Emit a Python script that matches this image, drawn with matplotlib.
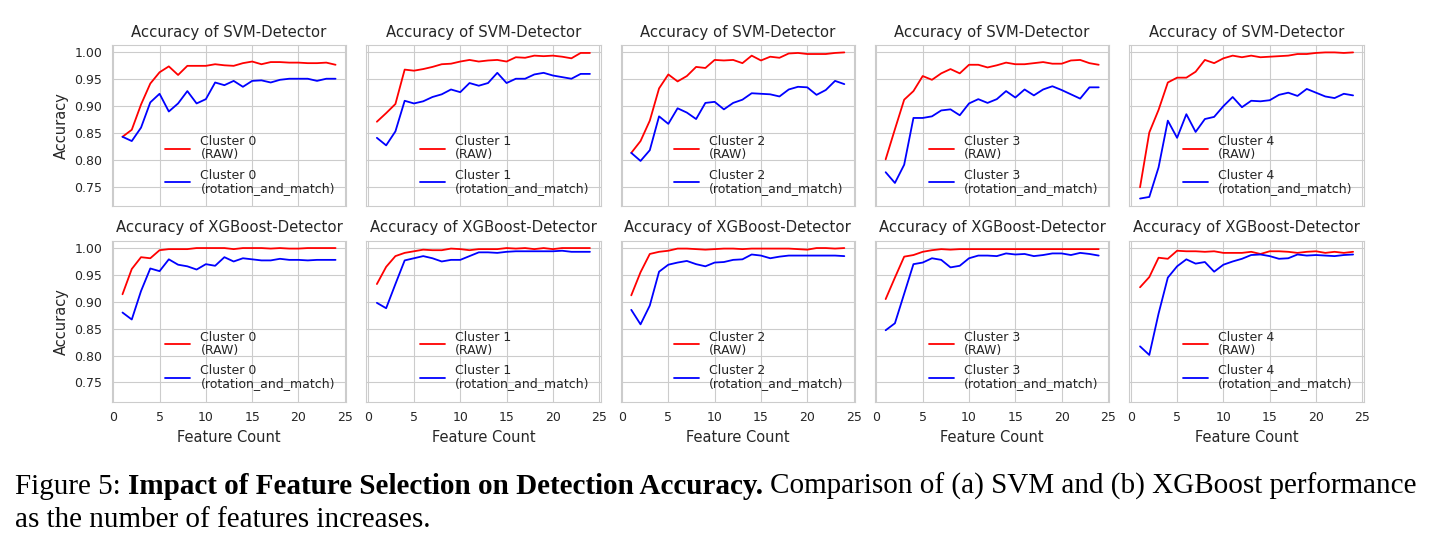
import matplotlib
matplotlib.use('Agg')
import matplotlib.pyplot as plt
import seaborn as sns

# feature counts 1..24
features = list(range(1, 25))

# SVM detector, RAW features
svm_raw_0 = [0.843, 0.856, 0.903, 0.942, 0.963, 0.974, 0.958, 0.975, 0.975, 0.975, 0.978, 0.976,
             0.975, 0.980, 0.983, 0.978, 0.982, 0.982, 0.981, 0.981, 0.980, 0.980, 0.981, 0.977]
svm_raw_1 = [0.871, 0.887, 0.904, 0.968, 0.966, 0.969, 0.973, 0.978, 0.979, 0.983, 0.986, 0.983,
             0.985, 0.986, 0.983, 0.991, 0.990, 0.994, 0.993, 0.994, 0.992, 0.989, 0.999, 0.999]
svm_raw_2 = [0.813, 0.835, 0.873, 0.933, 0.959, 0.946, 0.956, 0.973, 0.971, 0.986, 0.985, 0.986,
             0.980, 0.994, 0.985, 0.992, 0.990, 0.998, 0.999, 0.997, 0.997, 0.997, 0.999, 1.000]
svm_raw_3 = [0.801, 0.857, 0.912, 0.928, 0.956, 0.949, 0.961, 0.969, 0.961, 0.977, 0.977, 0.972,
             0.976, 0.981, 0.978, 0.978, 0.980, 0.982, 0.979, 0.979, 0.985, 0.986, 0.980, 0.977]
svm_raw_4 = [0.749, 0.851, 0.893, 0.944, 0.953, 0.953, 0.964, 0.986, 0.980, 0.989, 0.994, 0.991,
             0.994, 0.991, 0.992, 0.993, 0.994, 0.997, 0.997, 0.999, 1.000, 1.000, 0.999, 1.000]

# SVM detector, rotation_and_match features
svm_rot_0 = [0.843, 0.835, 0.860, 0.907, 0.923, 0.890, 0.905, 0.928, 0.905, 0.913, 0.944, 0.939,
             0.947, 0.936, 0.947, 0.948, 0.944, 0.949, 0.951, 0.951, 0.951, 0.947, 0.951, 0.951]
svm_rot_1 = [0.841, 0.827, 0.853, 0.910, 0.905, 0.909, 0.917, 0.922, 0.931, 0.926, 0.943, 0.938,
             0.943, 0.962, 0.943, 0.951, 0.951, 0.959, 0.962, 0.957, 0.954, 0.951, 0.960, 0.960]
svm_rot_2 = [0.813, 0.798, 0.818, 0.881, 0.867, 0.896, 0.888, 0.876, 0.906, 0.908, 0.894, 0.906,
             0.912, 0.924, 0.923, 0.922, 0.918, 0.931, 0.936, 0.935, 0.921, 0.930, 0.947, 0.941]
svm_rot_3 = [0.777, 0.757, 0.791, 0.878, 0.878, 0.881, 0.892, 0.894, 0.883, 0.905, 0.913, 0.906,
             0.913, 0.928, 0.916, 0.931, 0.920, 0.931, 0.937, 0.930, 0.922, 0.914, 0.935, 0.935]
svm_rot_4 = [0.728, 0.731, 0.786, 0.873, 0.841, 0.885, 0.852, 0.876, 0.880, 0.900, 0.917, 0.898,
             0.910, 0.909, 0.911, 0.921, 0.925, 0.919, 0.932, 0.925, 0.918, 0.915, 0.923, 0.920]

# XGBoost detector, RAW features
xgb_raw_0 = [0.914, 0.961, 0.983, 0.981, 0.996, 0.998, 0.998, 0.998, 1.000, 1.000, 1.000, 1.000,
             0.998, 1.000, 1.000, 1.000, 0.999, 1.000, 0.999, 0.999, 1.000, 1.000, 1.000, 1.000]
xgb_raw_1 = [0.933, 0.965, 0.985, 0.991, 0.994, 0.997, 0.996, 0.996, 0.999, 0.998, 0.996, 0.998,
             0.998, 0.998, 1.000, 0.999, 1.000, 0.998, 1.000, 0.998, 1.000, 1.000, 1.000, 1.000]
xgb_raw_2 = [0.912, 0.955, 0.989, 0.993, 0.995, 0.999, 0.999, 0.998, 0.997, 0.998, 0.999, 0.999,
             0.998, 0.999, 0.999, 0.999, 0.999, 0.999, 0.998, 0.997, 1.000, 1.000, 0.999, 1.000]
xgb_raw_3 = [0.905, 0.945, 0.984, 0.987, 0.993, 0.996, 0.998, 0.997, 0.998, 0.998, 0.998, 0.998,
             0.998, 0.998, 0.998, 0.998, 0.998, 0.998, 0.998, 0.998, 0.998, 0.998, 0.998, 0.998]
xgb_raw_4 = [0.927, 0.946, 0.982, 0.980, 0.995, 0.994, 0.994, 0.993, 0.994, 0.991, 0.991, 0.991,
             0.993, 0.989, 0.994, 0.994, 0.993, 0.991, 0.993, 0.994, 0.991, 0.993, 0.991, 0.993]

# XGBoost detector, rotation_and_match features
xgb_rot_0 = [0.880, 0.867, 0.920, 0.962, 0.957, 0.979, 0.969, 0.966, 0.960, 0.970, 0.967, 0.983,
             0.975, 0.981, 0.979, 0.977, 0.977, 0.980, 0.978, 0.978, 0.977, 0.978, 0.978, 0.978]
xgb_rot_1 = [0.898, 0.888, 0.933, 0.977, 0.981, 0.985, 0.981, 0.975, 0.978, 0.978, 0.985, 0.992,
             0.992, 0.991, 0.993, 0.994, 0.994, 0.994, 0.994, 0.994, 0.995, 0.993, 0.993, 0.993]
xgb_rot_2 = [0.885, 0.858, 0.893, 0.956, 0.969, 0.973, 0.976, 0.970, 0.966, 0.973, 0.974, 0.978,
             0.979, 0.988, 0.986, 0.981, 0.984, 0.986, 0.986, 0.986, 0.986, 0.986, 0.986, 0.985]
xgb_rot_3 = [0.847, 0.860, 0.915, 0.970, 0.973, 0.981, 0.978, 0.964, 0.967, 0.981, 0.986, 0.986,
             0.985, 0.990, 0.988, 0.989, 0.985, 0.987, 0.990, 0.990, 0.987, 0.991, 0.989, 0.986]
xgb_rot_4 = [0.817, 0.801, 0.878, 0.945, 0.966, 0.979, 0.971, 0.974, 0.956, 0.969, 0.975, 0.980,
             0.987, 0.988, 0.985, 0.980, 0.981, 0.988, 0.986, 0.987, 0.986, 0.985, 0.987, 0.988]

detectors = ['SVM', 'XGBoost']
raw_series = [[svm_raw_0, svm_raw_1, svm_raw_2, svm_raw_3, svm_raw_4],
              [xgb_raw_0, xgb_raw_1, xgb_raw_2, xgb_raw_3, xgb_raw_4]]
rot_series = [[svm_rot_0, svm_rot_1, svm_rot_2, svm_rot_3, svm_rot_4],
              [xgb_rot_0, xgb_rot_1, xgb_rot_2, xgb_rot_3, xgb_rot_4]]

sns.set_style('whitegrid')
plt.rcParams['font.family'] = ['DejaVu Sans']

fig, axes = plt.subplots(2, 5, figsize=(14.34, 5.5), dpi=100, sharex=True, sharey=True)
fig.subplots_adjust(left=0.078, right=0.951, top=0.918, bottom=0.27, wspace=0.0855, hspace=0.217)

for r, det in enumerate(detectors):
    for c in range(5):
        ax = axes[r, c]
        ax.plot(features, raw_series[r][c], color='red', lw=1.3, label=f'Cluster {c}\n(RAW)')
        ax.plot(features, rot_series[r][c], color='blue', lw=1.3,
                label=f'Cluster {c}\n(rotation_and_match)')
        ax.set_title(f'Accuracy of {det}-Detector', fontsize=10.7, color='.15')
        ax.tick_params(labelsize=9, colors='.15')
        leg = ax.legend(loc='lower right', fontsize=9, frameon=False, labelspacing=0.6)
        for t in leg.get_texts():
            t.set_linespacing(1.0)
        if c == 0:
            ax.set_ylabel('Accuracy', fontsize=10.5, color='.15')
        if r == 1:
            ax.set_xlabel('Feature Count', fontsize=10.5, color='.15')

ax.set_xticks([0, 5, 10, 15, 20, 25])

# caption with a bold run in the middle of the first line
renderer = fig.canvas.get_renderer()
serif = 'Liberation Serif'


def text_w(s, size, weight):
    t = fig.text(0, 0, s, fontsize=size, fontweight=weight, family=serif)
    w = t.get_window_extent(renderer).width
    t.remove()
    return w


line1 = [('Figure 5:', 'normal'), ('Impact of Feature Selection on Detection Accuracy.', 'bold'),
         ('Comparison of (a) SVM and (b) XGBoost performance', 'normal')]
size = 20
total = sum(text_w(s, size, w) for s, w in line1) + 2 * (text_w('x x', size, 'normal') - text_w('xx', size, 'normal'))
size = size * 1403 / total
space = text_w('x x', size, 'normal') - text_w('xx', size, 'normal')

x = 15
for s, w in line1:
    fig.text(x / 1434, 1 - 494 / 550, s, fontsize=size, fontweight=w, family=serif,
             va='baseline', color='black')
    x += text_w(s, size, w) + space
fig.text(15 / 1434, 1 - 527 / 550, 'as the number of features increases.', fontsize=size,
         family=serif, va='baseline', color='black')

fig.savefig('out.png', dpi=100)
plt.close()
